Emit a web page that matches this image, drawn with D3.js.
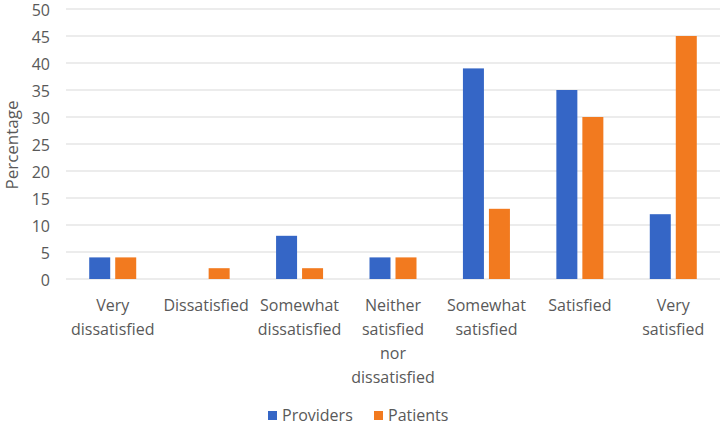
<!DOCTYPE html>
<html>
<head>
<meta charset="utf-8">
<script src="https://cdn.jsdelivr.net/npm/d3@7"></script>
<style>
  body { margin: 0; background: #fff; }
  text { font-family: "Open Sans", "Noto Sans", sans-serif; fill: #595959; }
</style>
</head>
<body>
<div id="chart"></div>
<script>
var categories = ["Very dissatisfied", "Dissatisfied", "Somewhat dissatisfied",
    "Neither satisfied nor dissatisfied", "Somewhat satisfied", "Satisfied", "Very satisfied"];
// how the axis labels wrap in the picture
var categoryLines = [
    ["Very", "dissatisfied"],
    ["Dissatisfied"],
    ["Somewhat", "dissatisfied"],
    ["Neither", "satisfied", "nor", "dissatisfied"],
    ["Somewhat", "satisfied"],
    ["Satisfied"],
    ["Very", "satisfied"]
];
var seriesNames = ["Providers", "Patients"];
var providers = [4, 0, 8, 4, 39, 35, 12];
var patients = [4, 2, 2, 4, 13, 30, 45];
var yTicks = [0, 5, 10, 15, 20, 25, 30, 35, 40, 45, 50];

var colors = ["#3566C6", "#F27A1F"];

var width = 722, height = 427;
var margin = {left: 66, right: 2, top: 9, bottom: 148};

var svg = d3.select("#chart").append("svg").attr("width", width).attr("height", height);

var x = d3.scaleBand().domain(categories).range([margin.left, width - margin.right]);
var y = d3.scaleLinear().domain([0, 50]).range([height - margin.bottom, margin.top]);

// gridlines
svg.append("g")
    .selectAll("line")
    .data(yTicks)
    .join("line")
    .attr("x1", margin.left)
    .attr("x2", width - margin.right)
    .attr("y1", d => y(d))
    .attr("y2", d => y(d))
    .attr("stroke", "#d9d9d9")
    .attr("stroke-width", 1.2);

// y tick labels
svg.append("g")
    .selectAll("text")
    .data(yTicks)
    .join("text")
    .attr("x", 50)
    .attr("y", d => y(d) + 1)
    .attr("dy", "0.35em")
    .attr("text-anchor", "end")
    .style("font-size", "16px")
    .text(d => d);

svg.append("text")
    .attr("transform", "translate(18," + (y(25) + 1) + ") rotate(-90)")
    .attr("text-anchor", "middle")
    .style("font-size", "17px")
    .text("Percentage");

var barW = 21, barGap = 5;
var series = [providers, patients];
series.forEach(function (vals, s) {
    var off = s == 0 ? -barGap / 2 - barW : barGap / 2;
    svg.append("g")
        .selectAll("rect")
        .data(vals)
        .join("rect")
        .attr("x", (d, i) => x(categories[i]) + x.bandwidth() / 2 + off)
        .attr("width", barW)
        .attr("y", d => y(d))
        .attr("height", d => y(0) - y(d))
        .attr("fill", colors[s]);
});

// category labels
var labels = svg.append("g")
    .selectAll("text")
    .data(categories)
    .join("text")
    .attr("text-anchor", "middle")
    .style("font-size", "16px");
labels.each(function (d, i) {
    var t = d3.select(this);
    categoryLines[i].forEach(function (line, k) {
        t.append("tspan")
            .attr("x", x(d) + x.bandwidth() / 2)
            .attr("y", 311 + k * 24)
            .text(line);
    });
});

// legend
var legendX = [268, 374];
seriesNames.forEach(function (name, s) {
    svg.append("rect")
        .attr("x", legendX[s])
        .attr("y", 411)
        .attr("width", 9)
        .attr("height", 9)
        .attr("fill", colors[s]);
    svg.append("text")
        .attr("x", legendX[s] + 14)
        .attr("y", 421)
        .style("font-size", "16px")
        .text(name);
});
</script>
</body>
</html>
